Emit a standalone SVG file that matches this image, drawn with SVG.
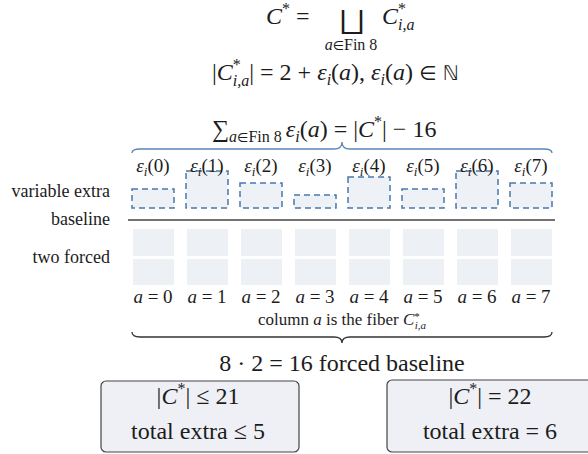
<svg xmlns="http://www.w3.org/2000/svg" width="588" height="454" viewBox="0 0 588 454">
<style>
.i{font-style:italic}
.lbl{font-size:18px;text-anchor:end}
.col{font-size:19px;text-anchor:middle}
.m{font-size:24px}
.c{text-anchor:middle}
.ex{fill:#eef1f6;stroke:#4a78ae;stroke-width:1.5;stroke-dasharray:6 4}
.fo{fill:#edf0f5}
.box{fill:#eef0f5;stroke:#444;stroke-width:1.2}
.br{fill:none;stroke-width:1.3}
</style>
<rect width="588" height="454" fill="#fff"/>

<g id="header" fill="#1c1c1c">
  <text font-family="Liberation Serif" class="m" x="266" y="24"><tspan class="i">C</tspan><tspan font-size="16" dy="-10">*</tspan><tspan dy="10"> =</tspan></text>
  <text x="352" y="31" font-family="DejaVu Sans" font-size="30" text-anchor="middle">&#x2A06;</text>
  <text font-family="Liberation Serif" class="c" x="351" y="50" font-size="16"><tspan class="i">a</tspan><tspan font-family="DejaVu Sans" font-size="13">&#x2208;</tspan>Fin 8</text>
  <text font-family="Liberation Serif" class="m" x="382" y="24"><tspan class="i">C</tspan><tspan font-size="16" dy="-10">*</tspan><tspan class="i" font-size="16" dx="-8" dy="16">i,a</tspan></text>
  <text font-family="Liberation Serif" class="m" x="212" y="80">|<tspan class="i">C</tspan><tspan font-size="16" dy="-10">*</tspan><tspan class="i" font-size="16" dx="-8" dy="16">i,a</tspan><tspan dy="-6">| = 2 + </tspan><tspan class="i">&#x3B5;</tspan><tspan class="i" font-size="16" dy="5">i</tspan><tspan dy="-5">(</tspan><tspan class="i">a</tspan>), <tspan class="i">&#x3B5;</tspan><tspan class="i" font-size="16" dy="5">i</tspan><tspan dy="-5">(</tspan><tspan class="i">a</tspan>) <tspan font-family="DejaVu Sans" font-size="20">&#x2208; &#x2115;</tspan></text>
  <text font-family="Liberation Serif" class="m" x="212" y="137">&#x2211;<tspan class="i" font-size="16" dy="5">a</tspan><tspan font-family="DejaVu Sans" font-size="13">&#x2208;</tspan><tspan font-size="16">Fin 8 </tspan><tspan class="i" dy="-5">&#x3B5;</tspan><tspan class="i" font-size="16" dy="5">i</tspan><tspan dy="-5">(</tspan><tspan class="i">a</tspan>) = |<tspan class="i">C</tspan><tspan font-size="16" dy="-10">*</tspan><tspan dy="10">| &#x2212; 16</tspan></text>
</g>

<g id="row-labels" fill="#1c1c1c">
  <text font-family="Liberation Serif" class="lbl" x="110" y="197">variable extra</text>
  <text font-family="Liberation Serif" class="lbl" x="110" y="225">baseline</text>
  <text font-family="Liberation Serif" class="lbl" x="110" y="263">two forced</text>
</g>

<g id="extras">
  <rect class="ex" x="132" y="189" width="42" height="19"/>
  <rect class="ex" x="186" y="171" width="42" height="37"/>
  <rect class="ex" x="240" y="183" width="42" height="25"/>
  <rect class="ex" x="294" y="195" width="42" height="13"/>
  <rect class="ex" x="348" y="177" width="42" height="31"/>
  <rect class="ex" x="402" y="189" width="42" height="19"/>
  <rect class="ex" x="456" y="171" width="42" height="37"/>
  <rect class="ex" x="510" y="183" width="42" height="25"/>
</g>

<g id="eps-labels" fill="#1c1c1c">
  <text font-family="Liberation Serif" class="col" x="153" y="172"><tspan class="i">&#x3B5;</tspan><tspan class="i" font-size="13" dy="4">i</tspan><tspan dy="-4">(0)</tspan></text>
  <text font-family="Liberation Serif" class="col" x="207" y="172"><tspan class="i">&#x3B5;</tspan><tspan class="i" font-size="13" dy="4">i</tspan><tspan dy="-4">(1)</tspan></text>
  <text font-family="Liberation Serif" class="col" x="261" y="172"><tspan class="i">&#x3B5;</tspan><tspan class="i" font-size="13" dy="4">i</tspan><tspan dy="-4">(2)</tspan></text>
  <text font-family="Liberation Serif" class="col" x="315" y="172"><tspan class="i">&#x3B5;</tspan><tspan class="i" font-size="13" dy="4">i</tspan><tspan dy="-4">(3)</tspan></text>
  <text font-family="Liberation Serif" class="col" x="369" y="172"><tspan class="i">&#x3B5;</tspan><tspan class="i" font-size="13" dy="4">i</tspan><tspan dy="-4">(4)</tspan></text>
  <text font-family="Liberation Serif" class="col" x="423" y="172"><tspan class="i">&#x3B5;</tspan><tspan class="i" font-size="13" dy="4">i</tspan><tspan dy="-4">(5)</tspan></text>
  <text font-family="Liberation Serif" class="col" x="477" y="172"><tspan class="i">&#x3B5;</tspan><tspan class="i" font-size="13" dy="4">i</tspan><tspan dy="-4">(6)</tspan></text>
  <text font-family="Liberation Serif" class="col" x="531" y="172"><tspan class="i">&#x3B5;</tspan><tspan class="i" font-size="13" dy="4">i</tspan><tspan dy="-4">(7)</tspan></text>
</g>

<g id="forced">
  <rect class="fo" x="133" y="229" width="41" height="27"/><rect class="fo" x="133" y="259" width="41" height="26"/>
  <rect class="fo" x="187" y="229" width="41" height="27"/><rect class="fo" x="187" y="259" width="41" height="26"/>
  <rect class="fo" x="241" y="229" width="41" height="27"/><rect class="fo" x="241" y="259" width="41" height="26"/>
  <rect class="fo" x="295" y="229" width="41" height="27"/><rect class="fo" x="295" y="259" width="41" height="26"/>
  <rect class="fo" x="349" y="229" width="41" height="27"/><rect class="fo" x="349" y="259" width="41" height="26"/>
  <rect class="fo" x="403" y="229" width="41" height="27"/><rect class="fo" x="403" y="259" width="41" height="26"/>
  <rect class="fo" x="457" y="229" width="41" height="27"/><rect class="fo" x="457" y="259" width="41" height="26"/>
  <rect class="fo" x="511" y="229" width="41" height="27"/><rect class="fo" x="511" y="259" width="41" height="26"/>
</g>

<g id="a-labels" fill="#1c1c1c">
  <text font-family="Liberation Serif" class="col" x="153" y="303"><tspan class="i">a</tspan> = 0</text>
  <text font-family="Liberation Serif" class="col" x="207" y="303"><tspan class="i">a</tspan> = 1</text>
  <text font-family="Liberation Serif" class="col" x="261" y="303"><tspan class="i">a</tspan> = 2</text>
  <text font-family="Liberation Serif" class="col" x="315" y="303"><tspan class="i">a</tspan> = 3</text>
  <text font-family="Liberation Serif" class="col" x="369" y="303"><tspan class="i">a</tspan> = 4</text>
  <text font-family="Liberation Serif" class="col" x="423" y="303"><tspan class="i">a</tspan> = 5</text>
  <text font-family="Liberation Serif" class="col" x="477" y="303"><tspan class="i">a</tspan> = 6</text>
  <text font-family="Liberation Serif" class="col" x="531" y="303"><tspan class="i">a</tspan> = 7</text>
  <text font-family="Liberation Serif" class="c" x="342" y="325" font-size="17">column <tspan class="i">a</tspan> is the fiber <tspan class="i">C</tspan><tspan font-size="11" dy="-5">*</tspan><tspan class="i" font-size="11" dx="-5" dy="9">i,a</tspan></text>
</g>

<g id="connectors">
  <line x1="128" y1="220" x2="555" y2="220" stroke="#444" stroke-width="1.6"/>
  <path class="br" stroke="#5b87b9" d="M132,153 Q132,149 140,149 L334,149 Q342,149 342,142 Q342,149 350,149 L544,149 Q552,149 552,153"/>
  <path class="br" stroke="#333" d="M132,332 Q132,337 140,337 L334,337 Q342,337 342,343 Q342,337 350,337 L544,337 Q552,337 552,332"/>
</g>

<g id="forced-total" fill="#1c1c1c">
  <text font-family="Liberation Serif" class="m c" x="342" y="371">8 &#xB7; 2 = 16 forced baseline</text>
</g>

<g id="box-le21">
  <rect class="box" x="101" y="381" width="198" height="71" rx="5"/>
  <text font-family="Liberation Serif" fill="#1c1c1c" class="m c" x="198" y="404">|<tspan class="i">C</tspan><tspan font-size="16" dy="-10">*</tspan><tspan dy="10">| &#x2264; 21</tspan></text>
  <text font-family="Liberation Serif" fill="#1c1c1c" class="m c" x="198" y="439">total extra &#x2264; 5</text>
</g>

<g id="box-eq22">
  <rect class="box" x="387" y="380" width="212" height="72" rx="5"/>
  <text font-family="Liberation Serif" fill="#1c1c1c" class="m c" x="490" y="404">|<tspan class="i">C</tspan><tspan font-size="16" dy="-10">*</tspan><tspan dy="10">| = 22</tspan></text>
  <text font-family="Liberation Serif" fill="#1c1c1c" class="m c" x="490" y="439">total extra = 6</text>
</g>
</svg>
